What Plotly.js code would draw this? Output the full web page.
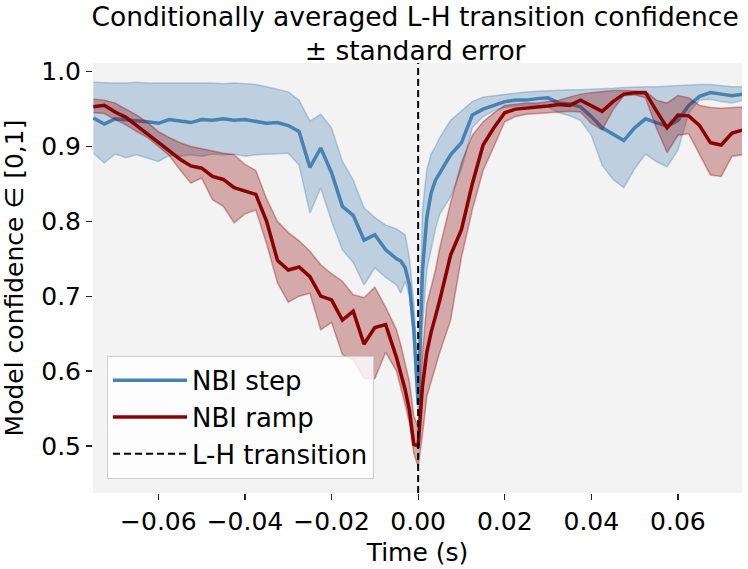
<!DOCTYPE html>
<html>
<head>
<meta charset="utf-8">
<script src="https://cdn.plot.ly/plotly-3.0.1.min.js"></script>
<style>
  html, body { margin: 0; padding: 0; background: #fff; }
  #chart { width: 748px; height: 569px; }
</style>
</head>
<body>
<div id="chart"></div>
<script>
// time relative to the L-H transition (s)
const time = [-0.075, -0.0725, -0.07, -0.0675, -0.065, -0.0625, -0.06, -0.0575, -0.055, -0.0525,
    -0.05, -0.0475, -0.045, -0.0425, -0.04, -0.0375, -0.035, -0.0325, -0.03, -0.0275,
    -0.025, -0.0225, -0.02, -0.0175, -0.015, -0.0125, -0.01, -0.0075, -0.005, -0.004,
    -0.003, -0.002, -0.001, 0, 0.001, 0.002, 0.003, 0.004, 0.005, 0.0075,
    0.01, 0.0125, 0.015, 0.0175, 0.02, 0.0225, 0.025, 0.0275, 0.03, 0.0325,
    0.035, 0.0375, 0.04, 0.0425, 0.045, 0.0475, 0.05, 0.0525, 0.055, 0.0575,
    0.06, 0.0625, 0.065, 0.0675, 0.07, 0.0725, 0.075];

// NBI step: mean and +/- standard error bounds
const stepMean = [0.938, 0.930, 0.937, 0.936, 0.935, 0.933, 0.931, 0.936, 0.934, 0.932,
    0.936, 0.935, 0.937, 0.935, 0.936, 0.933, 0.931, 0.932, 0.928, 0.920,
    0.872, 0.898, 0.865, 0.820, 0.808, 0.775, 0.782, 0.762, 0.750, 0.747,
    0.738, 0.715, 0.655, 0.555, 0.735, 0.805, 0.838, 0.855, 0.865, 0.889,
    0.905, 0.942, 0.950, 0.955, 0.960, 0.962, 0.962, 0.964, 0.965, 0.958,
    0.957, 0.953, 0.940, 0.925, 0.917, 0.908, 0.925, 0.937, 0.932, 0.927,
    0.935, 0.955, 0.967, 0.972, 0.970, 0.968, 0.970];
const stepUpper = [0.986, 0.985, 0.985, 0.985, 0.986, 0.985, 0.985, 0.985, 0.986, 0.985,
    0.985, 0.985, 0.984, 0.985, 0.984, 0.983, 0.980, 0.977, 0.973, 0.962,
    0.934, 0.943, 0.925, 0.880, 0.855, 0.818, 0.805, 0.795, 0.790, 0.786,
    0.782, 0.750, 0.690, 0.590, 0.815, 0.869, 0.890, 0.900, 0.912, 0.935,
    0.947, 0.960, 0.966, 0.968, 0.970, 0.972, 0.973, 0.974, 0.975, 0.975,
    0.976, 0.976, 0.977, 0.978, 0.978, 0.979, 0.980, 0.980, 0.980, 0.981,
    0.981, 0.982, 0.983, 0.983, 0.981, 0.980, 0.980];
const stepLower = [0.891, 0.878, 0.890, 0.885, 0.889, 0.884, 0.880, 0.888, 0.887, 0.889,
    0.887, 0.890, 0.889, 0.890, 0.887, 0.889, 0.890, 0.890, 0.891, 0.875,
    0.811, 0.845, 0.800, 0.762, 0.745, 0.715, 0.738, 0.725, 0.715, 0.704,
    0.720, 0.700, 0.640, 0.545, 0.660, 0.735, 0.765, 0.790, 0.810, 0.833,
    0.870, 0.925, 0.940, 0.948, 0.952, 0.954, 0.955, 0.955, 0.953, 0.945,
    0.941, 0.935, 0.915, 0.875, 0.856, 0.845, 0.870, 0.890, 0.880, 0.873,
    0.895, 0.945, 0.962, 0.963, 0.960, 0.958, 0.962];

// NBI ramp: mean and +/- standard error bounds
const rampMean = [0.953, 0.955, 0.946, 0.939, 0.928, 0.917, 0.905, 0.895, 0.883, 0.874,
    0.871, 0.860, 0.856, 0.845, 0.840, 0.836, 0.800, 0.748, 0.735, 0.739,
    0.726, 0.700, 0.695, 0.668, 0.680, 0.636, 0.658, 0.662, 0.618, 0.598,
    0.575, 0.547, 0.502, 0.500, 0.580, 0.625, 0.652, 0.673, 0.695, 0.755,
    0.789, 0.850, 0.902, 0.925, 0.945, 0.950, 0.951, 0.953, 0.954, 0.956,
    0.955, 0.962, 0.955, 0.947, 0.960, 0.970, 0.972, 0.972, 0.948, 0.925,
    0.942, 0.941, 0.928, 0.905, 0.902, 0.918, 0.922];
const rampUpper = [0.963, 0.962, 0.958, 0.950, 0.942, 0.932, 0.920, 0.912, 0.905, 0.900,
    0.897, 0.893, 0.891, 0.889, 0.876, 0.868, 0.830, 0.800, 0.785, 0.774,
    0.760, 0.742, 0.730, 0.720, 0.702, 0.698, 0.712, 0.685, 0.655, 0.635,
    0.610, 0.585, 0.540, 0.525, 0.625, 0.690, 0.712, 0.735, 0.765, 0.825,
    0.878, 0.915, 0.933, 0.945, 0.955, 0.957, 0.958, 0.958, 0.960, 0.962,
    0.966, 0.970, 0.972, 0.974, 0.975, 0.975, 0.975, 0.974, 0.962, 0.958,
    0.968, 0.965, 0.955, 0.952, 0.951, 0.952, 0.953];
const rampLower = [0.945, 0.944, 0.936, 0.929, 0.920, 0.912, 0.900, 0.888, 0.869, 0.851,
    0.858, 0.829, 0.820, 0.798, 0.810, 0.815, 0.770, 0.718, 0.692, 0.700,
    0.704, 0.655, 0.665, 0.622, 0.615, 0.590, 0.590, 0.625, 0.600, 0.578,
    0.555, 0.530, 0.490, 0.472, 0.515, 0.566, 0.585, 0.605, 0.625, 0.668,
    0.752, 0.815, 0.868, 0.900, 0.933, 0.940, 0.943, 0.944, 0.945, 0.946,
    0.947, 0.946, 0.931, 0.922, 0.949, 0.968, 0.969, 0.965, 0.925, 0.892,
    0.915, 0.917, 0.890, 0.862, 0.860, 0.887, 0.889];

const xTicks = [-0.06, -0.04, -0.02, 0, 0.02, 0.04, 0.06];
const yTicks = [0.5, 0.6, 0.7, 0.8, 0.9, 1.0];

const FONT = 'DejaVu Sans, sans-serif';

// 밴드(upper/lower) + 평균선 세 개의 trace를 한 묶음으로
function bandTraces(name, mean, upper, lower, rgb, rank) {
    const edge = { color: `rgba(${rgb},0.35)`, width: 1.5 };
    return [
        { type: 'scatter', mode: 'lines', x: time, y: upper, line: edge, showlegend: false, hoverinfo: 'skip' },
        { type: 'scatter', mode: 'lines', x: time, y: lower, line: edge, fill: 'tonexty',
          fillcolor: `rgba(${rgb},0.3)`, showlegend: false, hoverinfo: 'skip' },
        { type: 'scatter', mode: 'lines', x: time, y: mean, name: name,
          line: { color: `rgb(${rgb})`, width: 3.5 }, legendrank: rank }
    ];
}

const traces = [
    ...bandTraces('NBI step', stepMean, stepUpper, stepLower, '70,130,180', 1),
    ...bandTraces('NBI ramp', rampMean, rampUpper, rampLower, '139,0,0', 2)
];

const layout = {
    width: 748,
    height: 569,
    margin: { l: 93, r: 6, t: 63, b: 76 },
    paper_bgcolor: '#ffffff',
    plot_bgcolor: '#f3f3f3',
    font: { family: FONT, size: 25, color: '#000' },
    title: {
        text: 'Conditionally averaged L-H transition confidence<br>± standard error',
        font: { family: FONT, size: 26.5, color: '#000' },
        x: 0.555, xanchor: 'center',
        y: 0.955, yref: 'container', yanchor: 'top'
    },
    xaxis: {
        range: [-0.0751, 0.0748],
        tickvals: xTicks,
        tickformat: '.2f',
        ticks: 'outside', ticklen: 6, tickwidth: 1.3, tickcolor: '#222',
        showgrid: false, zeroline: false, showline: false,
        tickfont: { size: 25 },
        title: { text: 'Time (s)', font: { size: 25 }, standoff: 8 }
    },
    yaxis: {
        range: [0.437, 1.0116],
        tickvals: yTicks,
        tickformat: '.1f',
        ticks: 'outside', ticklen: 6, tickwidth: 1.3, tickcolor: '#222',
        showgrid: false, zeroline: false, showline: false,
        tickfont: { size: 25 },
        title: { text: 'Model confidence ∈ [0,1]', font: { size: 25 }, standoff: 10 }
    },
    legend: {
        x: 0.0216, xanchor: 'left',
        y: 0.033, yanchor: 'bottom',
        bgcolor: 'rgba(255,255,255,0.8)',
        bordercolor: '#cccccc', borderwidth: 1,
        font: { family: FONT, size: 26, color: '#000' },
        itemwidth: 74,
        traceorder: 'normal'
    },
    shapes: [{
        type: 'line', xref: 'x', yref: 'paper',
        x0: 0, x1: 0, y0: 0, y1: 1,
        line: { color: '#000', width: 2, dash: '7px,4px' },
        showlegend: true, name: 'L-H transition', legendrank: 3
    }],
    showlegend: true
};

Plotly.newPlot('chart', traces, layout, { staticPlot: true, displayModeBar: false });
</script>
</body>
</html>
